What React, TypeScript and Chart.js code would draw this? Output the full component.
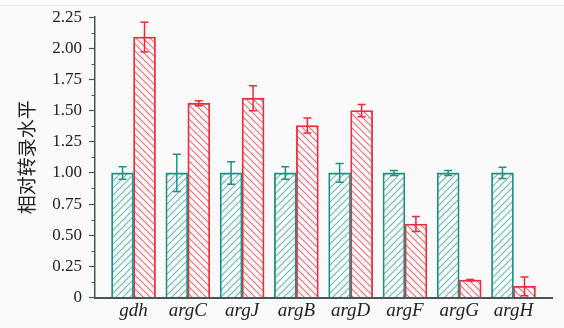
import React, { useEffect, useRef } from "react";
import { Chart, registerables } from "chart.js";

Chart.register(...registerables);

const categories = ["gdh", "argC", "argJ", "argB", "argD", "argF", "argG", "argH"];
const controlValues = [1.0, 1.0, 1.0, 1.0, 1.0, 1.0, 1.0, 1.0];
const controlErrors = [0.05, 0.15, 0.09, 0.05, 0.075, 0.02, 0.02, 0.045];
const treatValues = [2.09, 1.56, 1.6, 1.38, 1.5, 0.59, 0.14, 0.09];
const treatErrors = [0.12, 0.02, 0.1, 0.06, 0.05, 0.06, 0.005, 0.075];
const yTicks = [0, 0.25, 0.5, 0.75, 1.0, 1.25, 1.5, 1.75, 2.0, 2.25];

const TEAL = "#1f9184";
const TEAL_HATCH = "#66bdb4";
const RED = "#f02a3c";
const RED_HATCH = "#f46a78";
const AXIS = "#4a5454";

function makeHatch(color: string, forward: boolean): CanvasPattern | string {
  const s = 7;
  const c = document.createElement("canvas");
  c.width = s;
  c.height = s;
  const g = c.getContext("2d");
  if (!g) return color;
  g.fillStyle = "#fafafa";
  g.fillRect(0, 0, s, s);
  g.strokeStyle = color;
  g.lineWidth = 1.1;
  g.beginPath();
  if (forward) {
    g.moveTo(-1, s + 1);
    g.lineTo(s + 1, -1);
    g.moveTo(-1, 1);
    g.lineTo(1, -1);
    g.moveTo(s - 1, s + 1);
    g.lineTo(s + 1, s - 1);
  } else {
    g.moveTo(-1, -1);
    g.lineTo(s + 1, s + 1);
    g.moveTo(s - 1, -1);
    g.lineTo(s + 1, 1);
    g.moveTo(-1, s - 1);
    g.lineTo(1, s + 1);
  }
  g.stroke();
  const p = g.createPattern(c, "repeat");
  return p || color;
}

const errorBarPlugin = {
  id: "errorBars",
  afterDatasetsDraw(chart: any) {
    const ctx = chart.ctx;
    const yScale = chart.scales.y;
    chart.data.datasets.forEach((ds: any, di: number) => {
      const meta = chart.getDatasetMeta(di);
      const errs: number[] = ds.errors || [];
      meta.data.forEach((el: any, i: number) => {
        const v = ds.data[i].y;
        const e = errs[i] || 0;
        const yt = yScale.getPixelForValue(v + e);
        const yb = yScale.getPixelForValue(v - e);
        const x = el.x;
        ctx.save();
        ctx.strokeStyle = ds.borderColor;
        ctx.lineWidth = 1.5;
        ctx.beginPath();
        ctx.moveTo(x, yt);
        ctx.lineTo(x, yb);
        ctx.moveTo(x - 4, yt);
        ctx.lineTo(x + 4, yt);
        ctx.moveTo(x - 4, yb);
        ctx.lineTo(x + 4, yb);
        ctx.stroke();
        ctx.restore();
      });
    });
  },
};

const minorTickPlugin = {
  id: "minorTicks",
  afterDraw(chart: any) {
    const ctx = chart.ctx;
    const y = chart.scales.y;
    const left = chart.chartArea.left;
    ctx.save();
    ctx.strokeStyle = AXIS;
    ctx.lineWidth = 1;
    ctx.beginPath();
    for (let k = 0; k < yTicks.length - 1; k++) {
      const v = (yTicks[k] + yTicks[k + 1]) / 2;
      const py = Math.round(y.getPixelForValue(v)) + 0.5;
      ctx.moveTo(left - 3.5, py);
      ctx.lineTo(left, py);
    }
    ctx.stroke();
    ctx.restore();
  },
};

export default function App() {
  const ref = useRef<HTMLCanvasElement | null>(null);

  useEffect(() => {
    document.body.style.margin = "0";
    const canvas = ref.current;
    if (!canvas) return;
    const tealPattern = makeHatch(TEAL_HATCH, true);
    const redPattern = makeHatch(RED_HATCH, false);
    const chart = new Chart(canvas, {
      type: "bar",
      data: {
        datasets: [
          {
            label: "control",
            data: controlValues.map((v, i) => ({ x: i, y: v })),
            errors: controlErrors,
            backgroundColor: tealPattern,
            borderColor: TEAL,
            borderWidth: 1.8,
            barThickness: 22,
          } as any,
          {
            label: "treatment",
            data: treatValues.map((v, i) => ({ x: i, y: v })),
            errors: treatErrors,
            backgroundColor: redPattern,
            borderColor: RED,
            borderWidth: 1.8,
            barThickness: 22,
          } as any,
        ],
      },
      options: {
        animation: false,
        responsive: true,
        maintainAspectRatio: false,
        layout: { padding: { top: 16, right: 12, bottom: 0, left: 0 } },
        plugins: { legend: { display: false }, tooltip: { enabled: false } },
        scales: {
          x: {
            type: "linear",
            min: -0.71,
            max: 7.71,
            offset: false,
            afterBuildTicks: (axis: any) => {
              axis.ticks = categories.map((_, i) => ({ value: i }));
            },
            afterFit: (scale: any) => {
              scale.height = 30.5;
            },
            grid: { display: false, drawTicks: false },
            border: { display: true, color: AXIS, width: 2 },
            ticks: {
              autoSkip: false,
              maxRotation: 0,
              padding: 2,
              color: "#222",
              font: { family: "'Liberation Serif', 'Times New Roman', serif", size: 19, style: "italic" },
              callback: (v: any) => categories[Math.round(Number(v))] ?? "",
            },
          },
          y: {
            min: 0,
            max: 2.25,
            afterBuildTicks: (axis: any) => {
              axis.ticks = yTicks.map((v) => ({ value: v }));
            },
            afterFit: (scale: any) => {
              scale.width = 95;
            },
            grid: {
              display: true,
              drawOnChartArea: false,
              drawTicks: true,
              tickLength: 6,
              tickColor: AXIS,
              tickWidth: 1.2,
            },
            border: { display: true, color: AXIS, width: 1.5 },
            ticks: {
              padding: 7,
              color: "#222",
              font: { family: "'Liberation Serif', 'Times New Roman', serif", size: 17 },
              callback: (v: any) => (Number(v) === 0 ? "0" : Number(v).toFixed(2)),
            },
            title: {
              display: true,
              text: "相对转录水平",
              color: "#222",
              padding: { top: 15, bottom: 0 },
              font: { family: "'Noto Sans CJK SC', sans-serif", size: 19, weight: "normal" },
            },
          },
        },
      } as any,
      plugins: [errorBarPlugin, minorTickPlugin],
    });
    return () => chart.destroy();
  }, []);

  return (
    <div style={{ position: "relative", width: 564, height: 328, background: "#fafafa" }}>
      <div style={{ position: "absolute", left: 0, top: 0, width: 564, height: 5, background: "#ffffff", borderBottom: "1px solid #eeeeee" }} />
      <canvas ref={ref} style={{ position: "absolute", left: 0, top: 0 }} />
    </div>
  );
}
